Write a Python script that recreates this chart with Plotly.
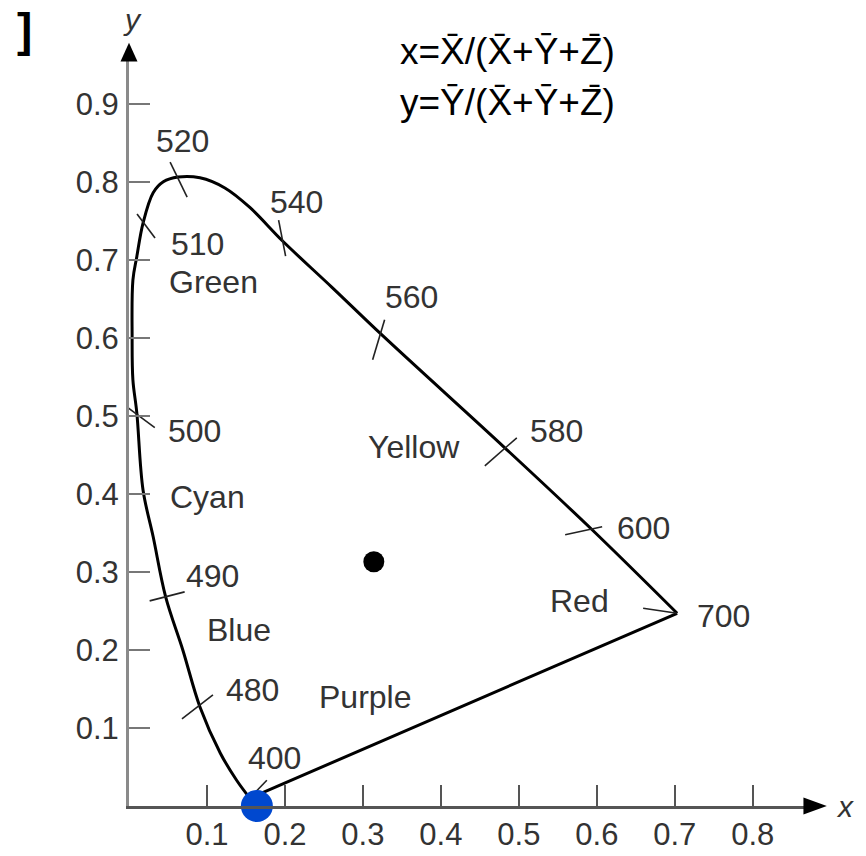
import plotly.graph_objects as go

# Spectral locus of the CIE 1931 chromaticity diagram, ordered by wavelength (nm)
locus_nm = [400, 460, 470, 480, 485, 490, 493, 495, 500, 502, 504, 506, 508,
            510, 513, 516, 520, 525, 530, 535, 540, 550, 560, 580, 600, 700]
locus_x = [0.155, 0.138, 0.117, 0.091, 0.069, 0.047, 0.031, 0.018, 0.010, 0.005,
           0.004, 0.005, 0.010, 0.018, 0.031, 0.044, 0.063, 0.091, 0.123, 0.155,
           0.197, 0.260, 0.324, 0.482, 0.594, 0.703]
locus_y = [0.010, 0.033, 0.068, 0.127, 0.200, 0.268, 0.345, 0.405, 0.504, 0.546,
           0.601, 0.674, 0.704, 0.747, 0.786, 0.800, 0.806, 0.805, 0.792, 0.767,
           0.724, 0.665, 0.604, 0.459, 0.354, 0.247]

# Wavelengths that get a tick mark and a label on the locus
label_nm = [400, 480, 490, 500, 510, 520, 540, 560, 580, 600, 700]

# White point and the highlighted point on the x axis
white_x = [0.314]
white_y = [0.313]
marker_x = [0.164]
marker_y = [0.0]

# Colour region names
region_names = ["Green", "Cyan", "Blue", "Purple", "Yellow", "Red"]
region_x = [0.108, 0.101, 0.141, 0.303, 0.365, 0.578]
region_y = [0.671, 0.396, 0.226, 0.140, 0.460, 0.263]

# Axis ticks
x_ticks = [0.1, 0.2, 0.3, 0.4, 0.5, 0.6, 0.7, 0.8]
y_ticks = [0.1, 0.2, 0.3, 0.4, 0.5, 0.6, 0.7, 0.8, 0.9]

# ---- layout geometry -------------------------------------------------------
W, H = 866, 856
PX = 780.0             # pixels per chromaticity unit on both axes
X_END, Y_END = 0.867, 0.956
ML, MB = 129, 50
MR = W - ML - X_END * PX
MT = H - MB - Y_END * PX

FONT = "Liberation Sans, Arial, Helvetica, sans-serif"
TEXT_COL = "#333333"


def px(x):
    """Chromaticity x -> paper coordinate."""
    return x / X_END


def py(y):
    """Chromaticity y -> paper coordinate."""
    return y / Y_END


# Tick-mark end points relative to the locus point, in pixels (x right, y up)
tick_style = {
    400: ((-5, -5), (17, 18)),
    480: ((-18, -12), (13, 12)),
    490: ((-16, -4), (19, 5)),
    500: ((-9, 5), (18, -15)),
    510: ((-6, 9), (12, -15)),
    520: ((-8, 15), (9, -20)),
    540: ((-4, 21), (3, -15)),
    560: ((3, 15), (-9, -25)),
    580: ((12, 10), (-20, -18)),
    600: ((-27, -5), (10, 3)),
    700: ((-34, 5), (0, 0)),
}
# Label offsets from the locus point, in pixels
label_shift = {
    400: (25, 40), 480: (53, 17), 490: (47, 21), 500: (58, -18),
    510: (54, -21), 520: (4, 36), 540: (14, 39), 560: (30, 38),
    580: (52, 17), 600: (51, 2), 700: (46, -3),
}

fig = go.Figure()

# Spectral locus
fig.add_trace(go.Scatter(
    x=locus_x, y=locus_y, mode="lines",
    line=dict(color="black", width=3, shape="spline", smoothing=1.0),
    hoverinfo="skip", showlegend=False))

# Line of purples joining both ends of the locus
fig.add_trace(go.Scatter(
    x=[locus_x[-1], locus_x[0]], y=[locus_y[-1], locus_y[0]], mode="lines",
    line=dict(color="black", width=3),
    hoverinfo="skip", showlegend=False))

# Wavelength tick marks
tx, ty = [], []
for nm in label_nm:
    i = locus_nm.index(nm)
    (ax, ay), (bx, by) = tick_style[nm]
    tx += [locus_x[i] + ax / PX, locus_x[i] + bx / PX, None]
    ty += [locus_y[i] + ay / PX, locus_y[i] + by / PX, None]
fig.add_trace(go.Scatter(
    x=tx, y=ty, mode="lines", line=dict(color="#222222", width=1.6),
    hoverinfo="skip", showlegend=False))

# White point
fig.add_trace(go.Scatter(
    x=white_x, y=white_y, mode="markers",
    marker=dict(color="black", size=21), showlegend=False))

# Highlighted point
fig.add_trace(go.Scatter(
    x=marker_x, y=marker_y, mode="markers", cliponaxis=False,
    marker=dict(color="#0048CF", size=32), showlegend=False))

annotations = []
for nm in label_nm:
    i = locus_nm.index(nm)
    dx, dy = label_shift[nm]
    annotations.append(dict(
        x=locus_x[i], y=locus_y[i], xref="x", yref="y", text=str(nm),
        showarrow=False, xshift=dx, yshift=dy,
        font=dict(family=FONT, size=32, color=TEXT_COL)))

for name, rx, ry in zip(region_names, region_x, region_y):
    annotations.append(dict(
        x=rx, y=ry, xref="x", yref="y", text=name, showarrow=False,
        font=dict(family=FONT, size=32, color=TEXT_COL)))


def paper_text(x, y, text, size, color, xanchor="center"):
    return dict(x=px(x), y=py(y), xref="paper", yref="paper", text=text,
                xanchor=xanchor, yanchor="middle", showarrow=False,
                font=dict(family=FONT, size=size, color=color))


# Axis names (beyond the axis ranges, so in paper coordinates)
annotations.append(paper_text(0.004, 1.008, "<i>y</i>", 30, TEXT_COL))
annotations.append(paper_text(0.918, 0.0, "<i>x</i>", 30, TEXT_COL))

# Definition of the chromaticity coordinates
formula = ["x=X\u0304/(X\u0304+Y\u0304+Z\u0304)", "y=Y\u0304/(X\u0304+Y\u0304+Z\u0304)"]
for txt, fy in zip(formula, [0.967, 0.901]):
    annotations.append(paper_text(0.345, fy, txt, 37, "black", xanchor="left"))

annotations.append(paper_text(-0.134, 0.995, "<b>]</b>", 46, "black"))

# Arrow heads on both axes
hw = 8.5 / PX
shapes = [
    dict(type="path", xref="paper", yref="paper", fillcolor="black", line=dict(width=0),
         path=f"M{px(-hw)},{py(0.954)} L0,{py(0.978)} L{px(hw)},{py(0.954)} Z"),
    dict(type="path", xref="paper", yref="paper", fillcolor="black", line=dict(width=0),
         path=f"M{px(0.865)},{py(-hw)} L{px(0.895)},0 L{px(0.865)},{py(hw)} Z"),
]

fig.update_layout(
    width=W, height=H,
    margin=dict(l=ML, r=MR, t=MT, b=MB, pad=0),
    paper_bgcolor="white", plot_bgcolor="white",
    showlegend=False,
    annotations=annotations, shapes=shapes,
    xaxis=dict(range=[0, X_END], tickvals=x_ticks, ticktext=[f"{v:.1f}" for v in x_ticks],
               ticks="inside", ticklen=21, tickwidth=2, tickcolor="#555555",
               showline=True, linecolor="#555555", linewidth=3,
               showgrid=False, zeroline=False, automargin=False,
               ticklabelstandoff=-1,
               tickfont=dict(family=FONT, size=31, color=TEXT_COL)),
    yaxis=dict(range=[0, Y_END], tickvals=y_ticks, ticktext=[f"{v:.1f}" for v in y_ticks],
               ticks="inside", ticklen=21, tickwidth=2, tickcolor="#777777",
               showline=True, linecolor="#8a8a8a", linewidth=3,
               showgrid=False, zeroline=False, automargin=False,
               ticklabelstandoff=1,
               tickfont=dict(family=FONT, size=31, color=TEXT_COL)),
)

fig.write_html("out.html")
